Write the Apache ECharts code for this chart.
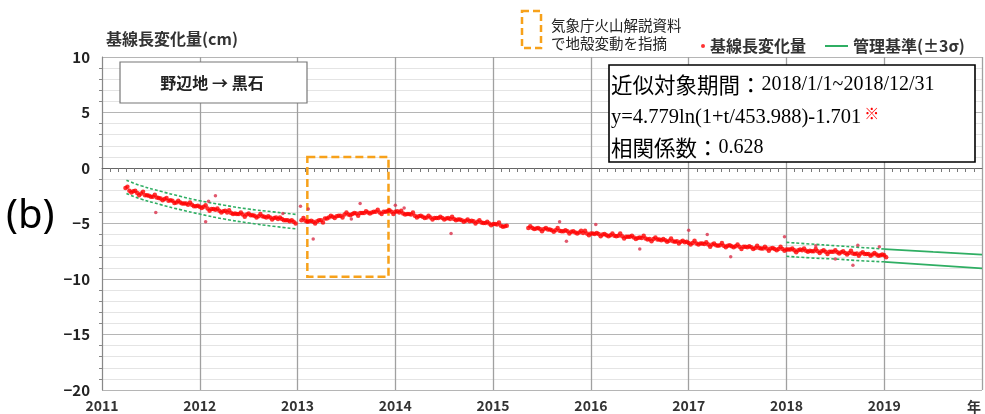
<!DOCTYPE html>
<html><head><meta charset="utf-8">
<script src="https://cdn.jsdelivr.net/npm/echarts@6/dist/echarts.min.js"></script>
<style>html,body{margin:0;padding:0;background:#fff;}#c{width:985px;height:414px;}</style>
</head><body><div id="c"></div>
<script>
// ---- data (years, cm) ----
const seg1Start = 2011.24, seg2Start = 2013.04, seg3Start = 2015.36, sampleStep = 0.04, halfStep = 0.02;
const seg1Values = [-1.8,-2.05,-2.1,-2.25,-2.3,-2.45,-2.5,-2.6,-2.65,-2.75,-2.8,-2.95,-2.95,-3.1,-3.1,-3.2,-3.3,-3.3,-3.45,-3.5,
  -3.5,-3.65,-3.7,-3.75,-3.85,-3.9,-4.0,-4.05,-4.1,-4.15,-4.2,-4.2,-4.25,-4.3,-4.35,-4.35,-4.45,-4.45,-4.5,-4.6,-4.6,-4.7,-4.8,-4.85];
const seg1ValuesB = [-1.7,-2.2,-2.05,-2.45,-2.15,-2.45,-2.6,-2.4,-2.7,-2.9,-2.7,-2.9,-3.15,-2.95,-3.2,-3.2,-3.1,-3.45,-3.4,-3.6,
  -3.35,-3.85,-3.7,-3.65,-4.0,-3.85,-3.8,-4.15,-4.15,-4.0,-4.4,-4.1,-4.25,-4.45,-4.15,-4.4,-4.35,-4.65,-4.45,-4.45,-4.7,-4.7,-4.7,-5.0];
const seg2Values = [-4.7,-4.75,-4.8,-4.85,-4.8,-4.7,-4.55,-4.45,-4.4,-4.35,-4.3,-4.2,-4.2,-4.15,-4.1,-4.05,-4.05,-4.0,-4.0,-3.95,
  -4.0,-3.95,-3.9,-3.95,-3.95,-4.0,-4.1,-4.15,-4.2,-4.3,-4.35,-4.4,-4.45,-4.45,-4.5,-4.5,-4.5,-4.55,-4.6,-4.6,
  -4.65,-4.7,-4.75,-4.8,-4.8,-4.85,-4.9,-4.95,-5.0,-5.05,-5.1,-5.2,-5.25];
const seg2ValuesB = [-4.5,-4.85,-4.75,-5.0,-4.7,-4.9,-4.55,-4.3,-4.5,-4.3,-4.45,-4.0,-4.25,-4.05,-4.3,-4.05,-3.9,-4.1,-3.95,-3.75,
  -4.15,-3.95,-3.8,-4.15,-3.9,-3.85,-4.2,-4.15,-4.0,-4.45,-4.3,-4.5,-4.3,-4.65,-4.5,-4.4,-4.65,-4.5,-4.4,-4.7,
  -4.65,-4.85,-4.65,-4.75,-5.0,-4.7,-4.95,-4.85,-5.15,-5.05,-4.9,-5.3,-5.2];
const seg3Values = [-5.4,-5.4,-5.45,-5.5,-5.5,-5.55,-5.6,-5.6,-5.65,-5.7,-5.7,-5.75,-5.8,-5.8,-5.85,-5.9,-5.9,-5.95,-5.95,-6.0,
  -6.05,-6.05,-6.1,-6.1,-6.15,-6.2,-6.2,-6.25,-6.3,-6.3,-6.35,-6.4,-6.4,-6.45,-6.5,-6.5,-6.55,-6.6,-6.6,-6.65,
  -6.7,-6.75,-6.75,-6.8,-6.8,-6.85,-6.9,-6.9,-6.95,-6.95,-7.0,-7.0,-7.05,-7.05,-7.1,-7.1,-7.15,-7.15,-7.2,-7.2,
  -7.25,-7.25,-7.25,-7.3,-7.3,-7.3,-7.35,-7.35,-7.4,-7.4,-7.4,-7.45,-7.45,-7.5,-7.5,-7.5,-7.55,-7.55,-7.55,-7.6,
  -7.6,-7.65,-7.65,-7.7,-7.7,-7.7,-7.75,-7.75,-7.8,-7.8,-7.85,-7.85];
const seg3ValuesB = [-5.25,-5.5,-5.4,-5.7,-5.4,-5.55,-5.75,-5.4,-5.7,-5.6,-5.9,-5.7,-5.9,-5.65,-5.65,-6.05,-5.9,-5.85,-6.15,-5.95,
  -6.15,-5.9,-6.15,-5.9,-6.35,-6.2,-6.1,-6.4,-6.25,-6.1,-6.45,-6.6,-6.25,-6.45,-6.4,-6.65,-6.35,-6.65,-6.8,-6.55,
  -6.65,-6.9,-6.55,-6.9,-6.8,-6.7,-7.1,-6.8,-7.0,-6.75,-7.15,-6.95,-7.15,-6.9,-7.3,-7.1,-7.05,-7.3,-7.0,-7.25,
  -7.1,-7.45,-7.2,-7.4,-7.1,-7.45,-7.35,-7.25,-7.6,-7.35,-7.25,-7.55,-7.5,-7.3,-7.65,-7.4,-7.75,-7.55,-7.4,-7.7,
  -7.5,-7.8,-7.45,-7.75,-7.9,-7.6,-7.75,-7.9,-7.65,-7.9,-7.8,-8.05];
const outlierYears  = [2011.55,2012.06,2012.09,2012.16,2012.85,2013.03,2013.11,2013.16,2013.55,2013.64,2014.0,2014.09,2014.57,2015.68,2015.75,2016.05,2016.5,2017.0,2017.19,2017.43,2017.98,2018.3,2018.5,2018.68,2018.73,2018.95];
const outlierValues = [-4.0,-4.85,-3.0,-2.5,-4.1,-3.45,-3.7,-6.4,-4.6,-3.2,-3.35,-3.6,-5.9,-4.85,-6.6,-5.1,-7.3,-5.6,-6.0,-8.0,-6.2,-7.0,-8.2,-8.75,-6.95,-7.1];
const band1Years = [2011.25,2011.4,2011.6,2011.8,2012.0,2012.25,2012.5,2012.75,2013.0];
const band1Upper = [-1.1,-1.6,-2.1,-2.55,-2.95,-3.35,-3.7,-3.95,-4.2];
const band1Lower = [-2.3,-2.8,-3.3,-3.75,-4.15,-4.6,-4.95,-5.25,-5.5];
const band2Years = [2018.0,2018.25,2018.5,2018.75,2019.0];
const band2Upper = [-6.7,-6.85,-7.0,-7.15,-7.3];
const band2Lower = [-7.95,-8.1,-8.2,-8.35,-8.45];
const band3Years = [2019.0,2019.5,2020.0];
const band3Upper = [-7.3,-7.55,-7.8];
const band3Lower = [-8.45,-8.75,-9.05];
const focusBox = [[2013.1, 1.0], [2013.93, -9.8]];
const xTicks = [2011,2012,2013,2014,2015,2016,2017,2018,2019,2020];
const yTicks = [10,5,0,-5,-10,-15,-20];

// ---- build ----
function seg(start, vals){ return vals.map((v,i)=>[+(start + i*sampleStep).toFixed(2), v]); }
function zip(xs, ys){ return xs.map((x,i)=>[x, ys[i]]); }
const pts = seg(seg1Start, seg1Values).concat(seg(seg2Start, seg2Values), seg(seg3Start, seg3Values),
  seg(seg1Start + halfStep, seg1ValuesB), seg(seg2Start + halfStep, seg2ValuesB), seg(seg3Start + halfStep, seg3ValuesB));
const outs = zip(outlierYears, outlierValues);
const GREEN = '#2fae63', RED = '#ff0000', ORANGE = '#f7a11a';
const CJK = '"Noto Sans CJK JP", "Noto Sans", sans-serif';
const SERIF = '"Liberation Serif", serif';

function bandSeries(xs, ys, dashed){
  return { name:'管理基準(±3σ)', type:'line', data: zip(xs, ys), showSymbol:false, symbol:'none', smooth:true,
    lineStyle:{ color: GREEN, width: dashed?1.6:1.8, type: dashed?[3,2]:'solid' }, itemStyle:{color:GREEN}, z:3, silent:true };
}
const eqRich = {
  j:{ fontSize:21.5, fill:'#000', fontFamily:CJK },
  s:{ fontSize:20, fill:'#000', fontFamily:SERIF },
  s2:{ fontSize:20.5, fill:'#000', fontFamily:SERIF },
  r:{ fontSize:15, fill:'#ff0000', fontFamily:CJK, padding:[0,0,10,3] }
};

const chart = echarts.init(document.getElementById('c'), null, {renderer:'canvas'});
chart.setOption({
  animation:false,
  backgroundColor:'#fff',
  textStyle:{ fontFamily: CJK },
  grid:{ left:102, top:57, width:885, height:333, containLabel:false },
  legend:[
    { data:[{name:'基線長変化量', icon:'circle'}], left:696, top:33, itemWidth:4, itemHeight:4, itemGap:6,
      textStyle:{ fontSize:16, fontWeight:'bold', color:'#333', fontFamily:CJK } },
    { data:[{name:'管理基準(±3σ)', icon:'rect'}], left:820, top:33, itemWidth:23, itemHeight:2, itemGap:4,
      textStyle:{ fontSize:16, fontWeight:'bold', color:'#333', fontFamily:CJK } }
  ],
  xAxis:{
    type:'value', min:xTicks[0], max:xTicks[xTicks.length-1], interval:1,
    axisLine:{ show:true, lineStyle:{ color:'#666', width:1 } },
    axisTick:{ show:false },
    minorTick:{ show:true, splitNumber:12, length:4, lineStyle:{ color:'#777' } },
    axisLabel:{ margin:9, fontSize:14, fontWeight:'bold', color:'#333', fontFamily:CJK,
      formatter: v => (v===2020 ? '' : String(v)) },
    splitLine:{ show:true, lineStyle:{ color:'#a0a0a0', width:1.3 } }
  },
  yAxis:{
    type:'value', min:yTicks[yTicks.length-1], max:yTicks[0], interval:5,
    name:'基線長変化量(cm)', nameLocation:'end', nameGap:10,
    nameTextStyle:{ align:'left', fontSize:16, fontWeight:'bold', color:'#333', padding:[0,0,0,4], fontFamily:CJK },
    axisLine:{ show:true, lineStyle:{ color:'#888' } },
    axisTick:{ show:false },
    minorTick:{ show:true, splitNumber:5, length:3, lineStyle:{ color:'#888' } },
    axisLabel:{ margin:12, fontSize:15, fontWeight:'bold', color:'#222', fontFamily:CJK,
      formatter: v => String(v).replace('-', '−') },
    splitLine:{ show:true, lineStyle:{ color:'#b5b5b5', width:1.2 } },
    minorSplitLine:{ show:true, lineStyle:{ color:'#e4e4e4', width:1 } }
  },
  series:[
    { name:'基線長変化量', type:'scatter', data: pts, symbolSize:4.5, itemStyle:{ color:RED }, z:4, silent:true,
      markArea:{ silent:true, itemStyle:{ color:'rgba(0,0,0,0)', borderColor:ORANGE, borderWidth:2.5, borderType:[8,4] },
        data:[[ {coord:focusBox[0]}, {coord:focusBox[1]} ]] } },
    { name:'基線長変化量', type:'scatter', data: outs, symbolSize:3.5, itemStyle:{ color:'#d9304a' }, z:4, silent:true },
    bandSeries(band1Years, band1Upper, true),
    bandSeries(band1Years, band1Lower, true),
    bandSeries(band2Years, band2Upper, true),
    bandSeries(band2Years, band2Lower, true),
    bandSeries(band3Years, band3Upper, false),
    bandSeries(band3Years, band3Lower, false)
  ],
  graphic:[
    { type:'text', x:6, y:217, style:{ text:'(b)', fontSize:40, fill:'#000', verticalAlign:'middle', fontFamily:'"Noto Sans", "Liberation Sans", sans-serif' } },
    { type:'text', right:4, top:400, style:{ text:'年', fontSize:14, fontWeight:'bold', fill:'#333', fontFamily:CJK } },
    // orange legend item
    { type:'rect', shape:{ x:522, y:11, width:19, height:37 }, style:{ fill:'none', stroke:ORANGE, lineWidth:2.5, lineDash:[7,4] } },
    { type:'text', x:551, y:16, style:{ text:'気象庁火山解説資料\nで地殻変動を指摘', fontSize:14.5, lineHeight:18, fill:'#222', fontFamily:CJK } },
    // station box
    { type:'rect', shape:{ x:120, y:62, width:187, height:41 }, style:{ fill:'#fff', stroke:'#777', lineWidth:1.2 }, z:10 },
    { type:'text', x:212, y:83, z:11, style:{ text:'野辺地 → 黒石', fontSize:16, fontWeight:'bold', fill:'#222', align:'center', verticalAlign:'middle', fontFamily:CJK } },
    // equation box
    { type:'rect', shape:{ x:609, y:65, width:366, height:97 }, style:{ fill:'#fff', stroke:'#000', lineWidth:1.6 }, z:10 },
    { type:'text', x:611, y:85, z:11, style:{ verticalAlign:'middle', text:'{j|近似対象期間：}{s|2018/1/1~2018/12/31}', rich:eqRich } },
    { type:'text', x:611, y:118, z:11, style:{ verticalAlign:'middle', text:'{s2|y=4.779ln(1+t/453.988)-1.701}{r|※}', rich:eqRich } },
    { type:'text', x:611, y:148, z:11, style:{ verticalAlign:'middle', text:'{j|相関係数：}{s|0.628}', rich:eqRich } }
  ]
});
</script></body></html>
